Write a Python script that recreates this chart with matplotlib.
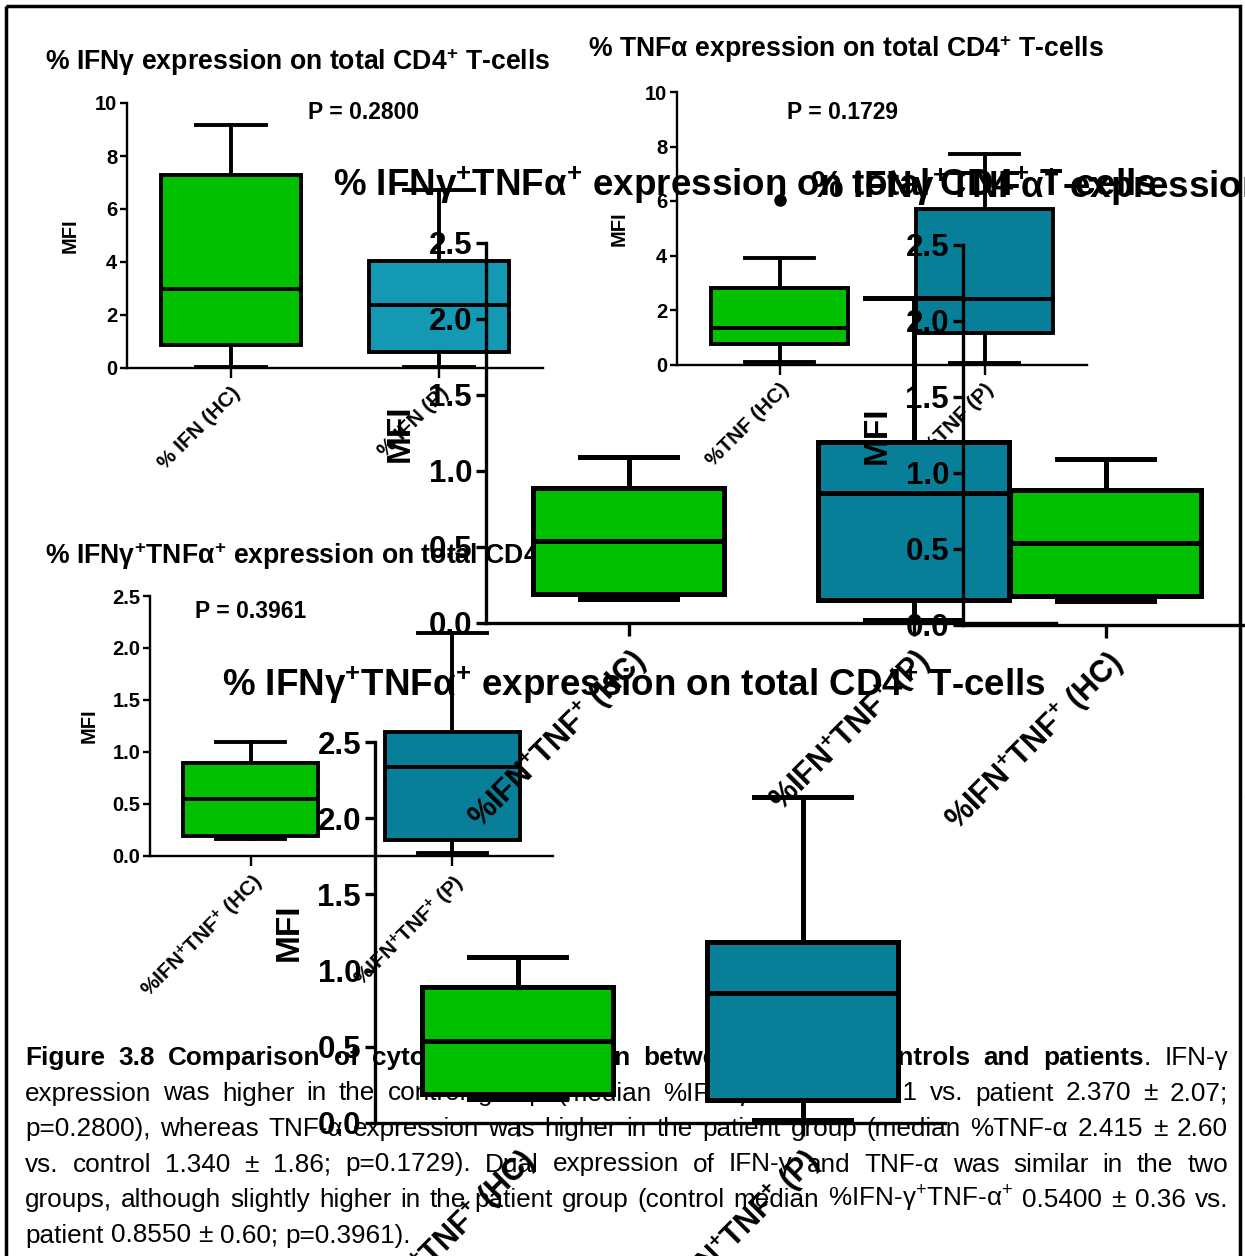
import matplotlib
matplotlib.use("Agg")
import matplotlib.pyplot as plt
from matplotlib.patches import Rectangle

plt.rcParams['font.family'] = ['Liberation Sans', 'DejaVu Sans']
plt.rcParams['mathtext.fontset'] = 'custom'
plt.rcParams['mathtext.rm'] = 'Liberation Sans'
plt.rcParams['mathtext.bf'] = 'Liberation Sans:bold'
plt.rcParams['mathtext.it'] = 'Liberation Sans:italic'

# box stats: whislo, q1, med, q3, whishi
stat_keys = ['whislo', 'q1', 'med', 'q3', 'whishi']
ifn_hc = [0.05, 0.87, 2.99, 7.28, 9.17]
ifn_p = [0.05, 0.60, 2.37, 4.02, 6.72]
tnf_hc = [0.10, 0.77, 1.34, 2.79, 3.92]
tnf_hc_out = [6.03]
tnf_p = [0.07, 1.17, 2.415, 5.70, 7.74]
dual_hc = [0.16, 0.19, 0.54, 0.89, 1.09]
dual_p = [0.02, 0.15, 0.855, 1.19, 2.14]

ifn_labels = ['% IFN (HC)', '% IFN (P)']
tnf_labels = ['%TNF (HC)', '%TNF (P)']
sup = r'$^{\mathbf{+}}$'
dual_labels = ['%IFN' + sup + 'TNF' + sup + ' (HC)', '%IFN' + sup + 'TNF' + sup + ' (P)']

ifn_title = '% IFNγ expression on total CD4' + sup + ' T-cells'
tnf_title = '% TNFα expression on total CD4' + sup + ' T-cells'
dual_title = '% IFNγ' + sup + 'TNFα' + sup + ' expression on total CD4' + sup + ' T-cells'

p_ifn = 'P = 0.2800'
p_tnf = 'P = 0.1729'
p_dual = 'P = 0.3961'

green = '#00c000'
blue_light = '#1399b4'
blue = '#087f99'

W, H = 1245, 1256
fig = plt.figure(figsize=(W / 100, H / 100), dpi=100)


def st(v, fl=()):
    d = dict(zip(stat_keys, v))
    d['fliers'] = list(fl)
    return d


def panel(box, z, stats, cols, ytop, yticks, ylabels, xlabels, title, title_xy, big, ylab_x):
    left, right, top, bottom = box
    ax = fig.add_axes([left / W, 1 - bottom / H, (right - left) / W, (bottom - top) / H], zorder=z)
    ax.patch.set_visible(False)
    lw = 3.6 if big else 2.8
    slw = 2.4 if big else 1.7
    bp = ax.bxp(stats, positions=[1, 2], widths=0.67, capwidths=0.34, patch_artist=True,
                boxprops=dict(linewidth=lw, edgecolor='black'),
                medianprops=dict(color='black', linewidth=lw),
                whiskerprops=dict(color='black', linewidth=lw),
                capprops=dict(color='black', linewidth=lw),
                flierprops=dict(marker='o', markerfacecolor='black', markeredgecolor='black', markersize=8))
    for patch, c in zip(bp['boxes'], cols):
        patch.set_facecolor(c)
    for k in bp:
        for a in bp[k]:
            a.set_clip_on(False)
    ax.set_xlim(0.5, 2.5)
    ax.set_ylim(0, ytop)
    ax.spines[['top', 'right']].set_visible(False)
    ax.spines[['left', 'bottom']].set_linewidth(slw)
    fs = 22.5 if big else 14.5
    ax.set_yticks(yticks, ylabels, fontsize=fs, fontweight='bold')
    ax.set_xticks([1, 2], xlabels, rotation=45, ha='right', rotation_mode='anchor',
                  fontsize=22 if big else 15, fontweight='bold')
    ax.tick_params(axis='y', length=7 if big else 5, width=slw, pad=3 if big else 2)
    ax.tick_params(axis='x', length=9 if big else 7, width=slw, pad=6 if big else 4)
    ax.set_ylabel('MFI', fontsize=24 if big else 14.5, fontweight='bold')
    ax.yaxis.set_label_coords(ylab_x, 0.5)
    ax.text(title_xy[0] / W, 1 - title_xy[1] / H, title, transform=fig.transFigure,
            ha='left', va='center', fontsize=26.5 if big else 19.2, fontweight='bold')
    return ax


# background: frame and caption
bg = fig.add_axes([0, 0, 1, 1], zorder=-1)
bg.set_xlim(0, W)
bg.set_ylim(H, 0)
bg.axis('off')
bg.add_patch(Rectangle((6, 6), 1234, 1300, fill=False, lw=2.5, edgecolor='black'))

cap_fs = 18.8
caption = [
    [[('Figure', 'bold')], [('3.8', 'bold')], [('Comparison', 'bold')], [('of', 'bold')],
     [('cytokine', 'bold')], [('expression', 'bold')], [('between', 'bold')], [('healthy', 'bold')],
     [('controls', 'bold')], [('and', 'bold')], [('patients', 'bold'), ('.', 'normal')],
     [('IFN-γ', 'normal')]],
    'expression was higher in the control group (median %IFN-γ 2.990 ± 2.71 vs. patient 2.370 ± 2.07;',
    'p=0.2800), whereas TNF-α expression was higher in the patient group (median %TNF-α 2.415 ± 2.60',
    'vs. control 1.340 ± 1.86; p=0.1729). Dual expression of IFN-γ and TNF-α was similar in the two',
    'groups, although slightly higher in the patient group (control median %IFN-γ' + r'$^{+}$' + 'TNF-α'
    + r'$^{+}$' + ' 0.5400 ± 0.36 vs.',
    'patient 0.8550 ± 0.60; p=0.3961).',
]
baselines = [1065, 1100.5, 1136, 1171.5, 1207, 1242.5]

renderer = fig.canvas.get_renderer()
for i, (line, yb) in enumerate(zip(caption, baselines)):
    if isinstance(line, str):
        words = [[(w, 'normal')] for w in line.split(' ')]
    else:
        words = line
    items = []
    total = 0
    for word in words:
        parts = []
        ww = 0
        for s, wt in word:
            t = bg.text(0, yb, s, fontsize=cap_fs, fontweight=wt, va='baseline', ha='left')
            tw = t.get_window_extent(renderer).width
            parts.append((t, tw))
            ww += tw
        items.append(parts)
        total += ww
    if i < len(caption) - 1:
        gap = (1228 - 25 - total) / (len(items) - 1)
    else:
        gap = 0.278 * cap_fs * 100 / 72
    x = 25
    for parts in items:
        for t, tw in parts:
            t.set_x(x)
            x += tw
        x += gap

small_ticks = [0, 2, 4, 6, 8, 10]
small_lab = [str(v) for v in small_ticks]
dual_ticks = [0, 0.5, 1.0, 1.5, 2.0, 2.5]
dual_lab = ['%.1f' % v for v in dual_ticks]

ax_a = panel((127, 543, 103, 368), 1, [st(ifn_hc), st(ifn_p)], [green, blue_light], 10,
             small_ticks, small_lab, ifn_labels, ifn_title, (45, 62), False, -0.115)
ax_a.text(1.635, 9.66, p_ifn, ha='center', va='center', fontsize=16.5, fontweight='bold')

ax_b = panel((677, 1087, 92, 364.5), 2, [st(tnf_hc, tnf_hc_out), st(tnf_p)], [green, blue], 10,
             small_ticks, small_lab, tnf_labels, tnf_title, (588, 49), False, -0.117)
ax_b.text(1.305, 9.23, p_tnf, ha='center', va='center', fontsize=16.5, fontweight='bold')

ax_c = panel((150, 553, 596, 855.5), 3, [st(dual_hc), st(dual_p)], [green, blue], 2.5,
             dual_ticks, dual_lab, dual_labels, dual_title, (45, 556), False, -0.127)
ax_c.text(1.0, 2.35, p_dual, ha='center', va='center', fontsize=16.5, fontweight='bold')

# the large dual panel appears three times, shifted
for box, z in [((486, 1056, 243, 623), 4), ((963, 1533, 245, 625), 5), ((375, 945, 742, 1123), 6)]:
    panel(box, z, [st(dual_hc), st(dual_p)], [green, blue], 2.5, dual_ticks, dual_lab,
          dual_labels, dual_title, (box[0] - 153, box[3] - 438), True, -0.123)

fig.savefig('out.png', dpi=100)
